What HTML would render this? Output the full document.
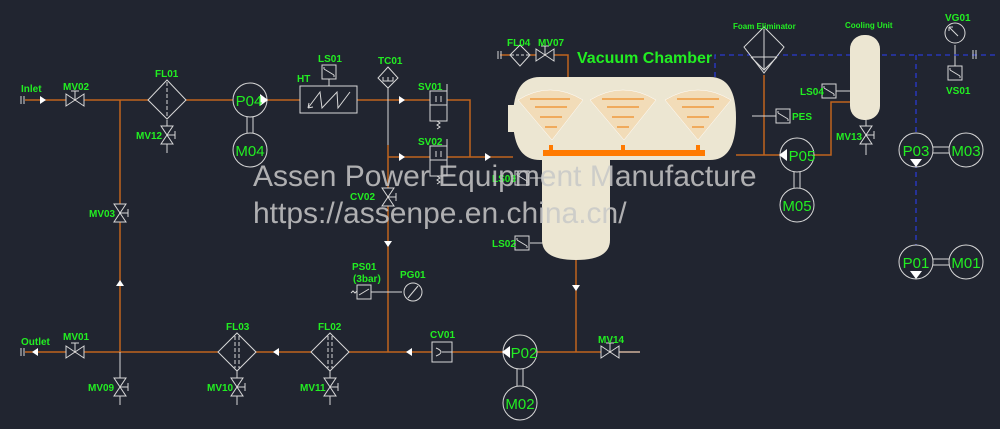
<!DOCTYPE html>
<html><head><style>
html,body{margin:0;padding:0;background:#212530;}
svg{display:block;font-family:"Liberation Sans",sans-serif;}
.g{fill:#22ee22;font-weight:bold;font-size:10px;}
.w{stroke:#d8d8d8;stroke-width:1;fill:none;}
.o{stroke:#c0641e;stroke-width:1.5;fill:none;}
.c{stroke:#d8d8d8;stroke-width:1;fill:#212530;}
</style></head><body>
<svg width="1000" height="429" viewBox="0 0 1000 429">
<defs>
<g id="vh"><path d="M-9,-6 L9,6 L9,-6 L-9,6 Z" class="c"/><line x1="0" y1="0" x2="0" y2="-9" class="w"/><line x1="-4" y1="-9" x2="4" y2="-9" class="w"/></g>
<g id="vv"><path d="M-6,-9 L6,9 L-6,9 L6,-9 Z" class="c"/><line x1="0" y1="0" x2="8" y2="0" class="w"/><line x1="8" y1="-4" x2="8" y2="4" class="w"/></g>
<g id="sw"><rect x="-7" y="-7" width="14" height="14" class="c"/><path d="M-5,-3 L5,3 M-5,-3 v-2 M5,3 v2" class="w"/></g>
</defs>
<path class="o" d="M25,100 H470 V157 M388,157 H513 M120,100 V352 M25,352 H640 M388,145 V352 M576,258 V352 M736,155 H780 M764,75 V155 M814,155 H831 V102 H850 M500,55 H568 V77"/>
<path class="w" d="M388,88 V145 M167,120 V153 M610,352 H640 M120,352 V405 M237,370 V405 M330,370 V405 M866,120 V155 M752,116 H776 M530,178 H545 M530,243 H545 M371,292 H402 M955,45 V66 M880,91 H836"/>
<path d="M715,77 V55 H995 M916,55 V272" stroke="#2a3ad0" stroke-width="1.3" stroke-dasharray="5,4" fill="none"/>
<g fill="#fff"><path d="M40,96 L46,100 L40,104Z"/><path d="M399,96 L405,100 L399,104Z"/><path d="M399,153 L405,157 L399,161Z"/><path d="M485,153 L491,157 L485,161Z"/>
<path d="M116,286 L120,280 L124,286Z"/><path d="M384,241 L388,247 L392,241Z"/><path d="M572,285 L576,291 L580,285Z"/>
<path d="M38,348 L32,352 L38,356Z"/><path d="M279,348 L273,352 L279,356Z"/><path d="M412,348 L406,352 L412,356Z"/></g>
<path class="w" d="M21,96 V104 M24,96 V104 M21,348 V356 M24,348 V356 M498,51 V59 M501,51 V59 M973,50 V59 M976,50 V59"/>
<use href="#vh" x="75" y="100"/><use href="#vh" x="75" y="352"/><use href="#vh" x="610" y="352"/><use href="#vh" x="545" y="55"/>
<use href="#vv" x="167" y="135"/><use href="#vv" x="120" y="213"/><use href="#vv" x="120" y="387"/><use href="#vv" x="237" y="387"/><use href="#vv" x="330" y="387"/><use href="#vv" x="388" y="197"/><use href="#vv" x="866" y="135"/>
<path d="M167,80 L186,100 L167,119 L148,100Z" class="c"/><line x1="167" y1="82" x2="167" y2="118" class="w" stroke-dasharray="4,2"/>
<g class="c"><path d="M237,333 L256,352 L237,371 L218,352Z"/><path d="M330,333 L349,352 L330,371 L311,352Z"/></g>
<path class="w" stroke-dasharray="4,2" d="M235,336 V368 M239,336 V368 M328,336 V368 M332,336 V368"/>
<path d="M520,45 L530,55 L520,66 L510,55Z" class="c"/><line x1="511" y1="55" x2="529" y2="55" class="w" stroke-dasharray="3,2"/>
<path d="M764,27 L784,47 L764,73 L744,47Z" class="c"/><path class="w" d="M764,29 V70 M751,57 H777 M751,57 L764,70 L777,57"/>
<g class="w"><path d="M247,117 V133 M253,117 V133 M517,369 V386 M523,369 V386 M794,172 V188 M800,172 V188 M933,147 H949 M933,153 H949 M933,259 H949 M933,265 H949"/></g>
<g class="c"><circle cx="250" cy="100" r="17"/><circle cx="250" cy="150" r="17"/><circle cx="520" cy="352" r="17"/><circle cx="520" cy="403" r="17"/><circle cx="797" cy="155" r="17"/><circle cx="797" cy="205" r="17"/><circle cx="916" cy="150" r="17"/><circle cx="966" cy="150" r="17"/><circle cx="916" cy="262" r="17"/><circle cx="966" cy="262" r="17"/></g>
<g fill="#fff"><path d="M260,94 L268,100 L260,106Z"/><path d="M510,346 L502,352 L510,358Z"/><path d="M787,149 L779,155 L787,161Z"/><path d="M910,159 L916,167 L922,159Z"/><path d="M910,271 L916,279 L922,271Z"/></g>
<g fill="#22ee22" font-size="15" text-anchor="middle" font-family="Liberation Sans Narrow, Liberation Sans, sans-serif"><text x="249" y="106">P04</text><text x="250" y="156">M04</text><text x="524" y="358">P02</text><text x="520" y="409">M02</text><text x="802" y="161">P05</text><text x="797" y="211">M05</text><text x="916" y="156">P03</text><text x="966" y="156">M03</text><text x="916" y="268">P01</text><text x="966" y="268">M01</text></g>
<rect x="300" y="86" width="57" height="27" class="c"/><path class="w" d="M308,108 L320,92 L322,108 L337,92 L338,108 L350,92 M308,108 l5,-1 M308,108 l1,-5"/>
<use href="#sw" x="329" y="72"/><line x1="329" y1="79" x2="329" y2="86" class="w"/>
<path d="M388,67 L398,78 L388,88 L378,78Z" class="c"/><path class="w" d="M383,77 v4 h10 v-4 M388,77 v4"/>
<g class="c"><rect x="430" y="91" width="17" height="30"/><rect x="430" y="146" width="17" height="30"/></g>
<path class="w" d="M430,105 H447 M430,160 H447 M436,96 V102 M441,96 V102 M436,151 V157 M441,151 V157 M447,84 V91 M447,139 V146 M437,121 l3,2 -3,2 3,2 -3,2 M437,176 l3,2 -3,2 3,2 -3,2"/>
<rect x="432" y="342" width="20" height="20" class="c"/><path class="w" d="M436,348 Q446,352 436,356 M442,352 H452"/>
<rect x="357" y="285" width="14" height="14" class="c"/><path class="w" d="M359,295 L369,289 M351,293 l2,-2 2,2 2,-2"/>
<circle cx="413" cy="292" r="9" class="c"/><path class="w" d="M408,298 L418,286"/>
<g fill="#ece6d2">
<path d="M540,77 H710 Q736,77 736,118 Q736,160 710,160 H540 Q513,160 513,118 Q513,77 540,77Z"/>
<path d="M542,150 H610 V240 Q610,260 576,260 Q542,260 542,240Z"/>
<rect x="508" y="105" width="6" height="27"/>
</g>
<g fill="#f2dcb8" stroke="#fff" stroke-width="0.5">
<path d="M518,100 Q550,80 583,100 L552,140 Z"/><path d="M590,100 Q623,80 656,100 L624,140 Z"/><path d="M665,100 Q698,80 731,100 L698,140 Z"/>
</g>
<g fill="#f08a20" opacity="0.6">
<path d="M530,98 h40 v2 h-40z M535,106 h32 v2 h-32z M540,116 h22 v2 h-22z M545,126 h12 v2 h-12z"/>
<path d="M602,98 h42 v2 h-42z M607,106 h32 v2 h-32z M612,116 h22 v2 h-22z M617,126 h12 v2 h-12z"/>
<path d="M677,98 h42 v2 h-42z M682,106 h32 v2 h-32z M687,116 h22 v2 h-22z M692,126 h12 v2 h-12z"/>
</g>
<rect x="543" y="150" width="162" height="6" fill="#ff7a00"/>
<g fill="#ff7a00"><rect x="549" y="145" width="4" height="5"/><rect x="621" y="145" width="4" height="5"/><rect x="696" y="145" width="4" height="5"/></g>
<use href="#sw" x="522" y="178"/><use href="#sw" x="522" y="243"/>
<rect x="850" y="35" width="30" height="85" rx="14" fill="#ece6d2"/>
<use href="#sw" x="829" y="91"/><use href="#sw" x="783" y="116"/><use href="#sw" x="955" y="73"/>
<circle cx="955" cy="33" r="10" class="c"/><path class="w" d="M949,27 L958,36 M949,27 l4,0 M949,27 l0,4"/>
<g class="g">
<text x="21" y="92">Inlet</text><text x="63" y="90">MV02</text><text x="155" y="77">FL01</text><text x="136" y="139">MV12</text><text x="89" y="217">MV03</text>
<text x="297" y="82">HT</text><text x="318" y="62">LS01</text><text x="378" y="64">TC01</text><text x="418" y="90">SV01</text><text x="418" y="145">SV02</text><text x="350" y="200">CV02</text>
<text x="507" y="46">FL04</text><text x="538" y="46">MV07</text><text x="577" y="63" font-size="16">Vacuum Chamber</text>
<text x="733" y="29" font-size="8">Foam Eliminator</text><text x="845" y="28" font-size="8">Cooling Unit</text><text x="945" y="21">VG01</text><text x="946" y="94">VS01</text>
<text x="800" y="95">LS04</text><text x="792" y="120">PES</text>
<text x="836" y="140">MV13</text><text x="492" y="182">LS03</text><text x="492" y="247">LS02</text>
<text x="352" y="270">PS01</text><text x="353" y="282">(3bar)</text><text x="400" y="278">PG01</text>
<text x="21" y="345">Outlet</text><text x="63" y="340">MV01</text><text x="88" y="391">MV09</text><text x="226" y="330">FL03</text><text x="318" y="330">FL02</text>
<text x="207" y="391">MV10</text><text x="300" y="391">MV11</text><text x="430" y="338">CV01</text><text x="598" y="343">MV14</text>
</g>
<g fill="#c8c8c8" fill-opacity="0.85" font-size="30"><text x="253" y="186">Assen Power Equipment Manufacture</text><text x="253" y="223">https://assenpe.en.china.cn/</text></g>
</svg>
</body></html>
